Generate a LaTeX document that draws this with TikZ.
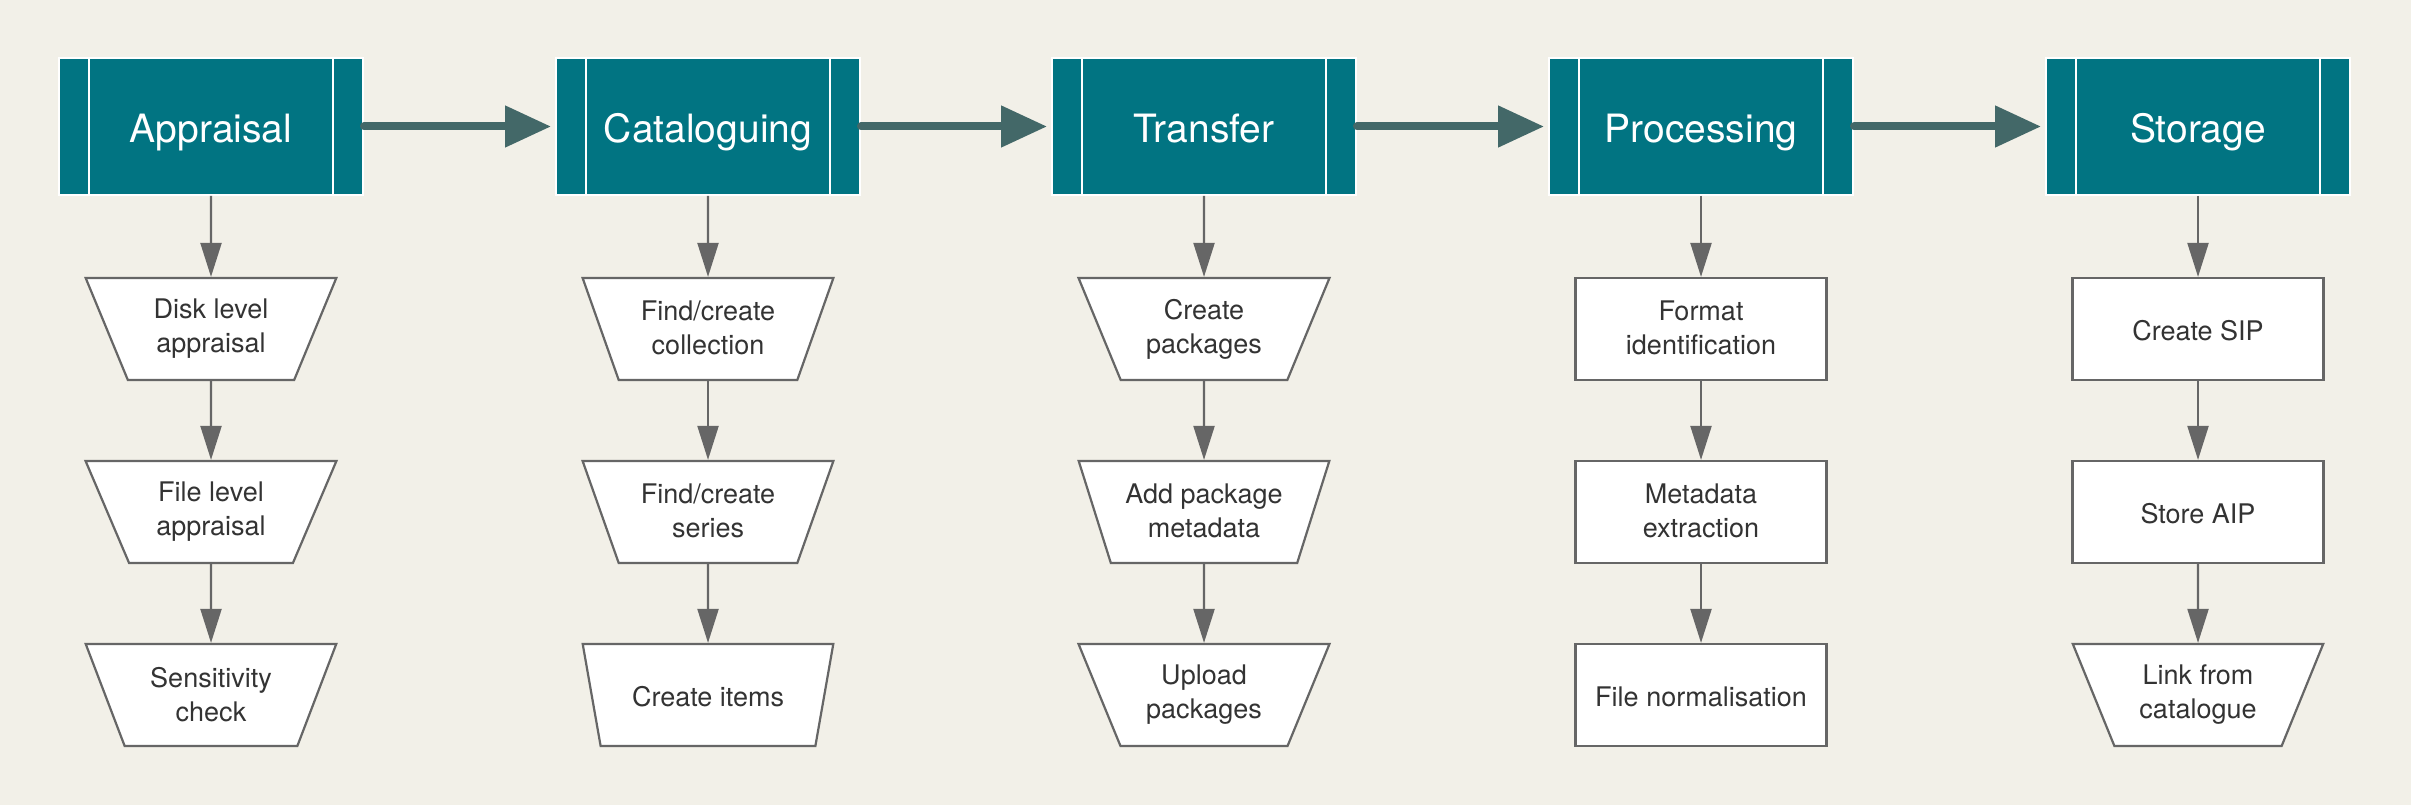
\documentclass[tikz,border=0pt]{standalone}
\usepackage{fontspec}
\setmainfont{TeX Gyre Heros}
\usetikzlibrary{shapes.geometric,arrows.meta}
\definecolor{bgc}{HTML}{F2F0E8}
\definecolor{teal1}{HTML}{017482}
\definecolor{flowc}{HTML}{436868}
\definecolor{edgec}{HTML}{666666}
\definecolor{txtc}{HTML}{333333}
\newcommand\topstrut{\rule{0pt}{24pt}}
\newcommand\botstrut{\rule[-2pt]{0pt}{2pt}}
\tikzset{
  x=1pt, y=1pt,
  phase/.style={rectangle, fill=teal1, draw=white, line width=2pt, minimum width=304pt, minimum height=137pt, inner sep=0pt, text=white, text height=32pt, text depth=0pt, font=\fontsize{39}{46}\selectfont},
  childtext/.style={text=txtc, align=center, font=\fontsize{27}{34}\selectfont, execute at begin node=\topstrut, execute at end node=\botstrut},
  trap/.style={trapezium, trapezium stretches=true, trapezium left angle=64, trapezium right angle=64, shape border rotate=180, minimum width=251pt, minimum height=102pt, inner sep=0pt, fill=white, draw=edgec, line width=2.2pt, childtext},
  task/.style={rectangle, minimum width=251pt, minimum height=102pt, inner sep=0pt, fill=white, draw=edgec, line width=2.2pt, childtext},
  flow/.style={draw=flowc, line width=8pt, line cap=round, -{Triangle[length=46pt,width=40pt]}, shorten >=4pt},
  sub/.style={draw=edgec, line width=2.2pt, -{Triangle[length=34pt,width=21pt]}},
}
\begin{document}
\begin{tikzpicture}
\fill[bgc] (0,0) rectangle (2411,-805);
\useasboundingbox (0,0) rectangle (2411,-805);
% headers
\node[phase] (A) at (211,-126.5) {Appraisal};
\node[phase] (C) at (708,-126.5) {Cataloguing};
\node[phase] (T) at (1204,-126.5) {Transfer};
\node[phase] (P) at (1701,-126.5) {Processing};
\node[phase] (S) at (2198,-126.5) {Storage};
\foreach \n in {A,C,T,P,S}{
  \draw[white, line width=2pt] ([xshift=31pt]\n.north west) -- ([xshift=31pt]\n.south west);
  \draw[white, line width=2pt] ([xshift=-31pt]\n.north east) -- ([xshift=-31pt]\n.south east);
}
\draw[flow] (A.east) -- (C.west);
\draw[flow] (C.east) -- (T.west);
\draw[flow] (T.east) -- (P.west);
\draw[flow] (P.east) -- (S.west);
% Appraisal column
\node[trap] (A1) at (211,-329) {Disk level\\appraisal};
\node[trap] (A2) at (211,-512) {File level\\appraisal};
\node[trap] (A3) at (211,-695) {Sensitivity\\check};
% Cataloguing column
\node[trap] (C1) at (708,-329) {Find/create\\collection};
\node[trap] (C2) at (708,-512) {Find/create\\series};
\node[trap] (C3) at (708,-695) {Create items};
% Transfer column
\node[trap] (T1) at (1204,-329) {Create\\packages};
\node[trap] (T2) at (1204,-512) {Add package\\metadata};
\node[trap] (T3) at (1204,-695) {Upload\\packages};
% Processing column
\node[task] (P1) at (1701,-329) {Format\\identification};
\node[task] (P2) at (1701,-512) {Metadata\\extraction};
\node[task] (P3) at (1701,-695) {File normalisation};
% Storage column
\node[task] (S1) at (2198,-329) {Create SIP};
\node[task] (S2) at (2198,-512) {Store AIP};
\node[trap] (S3) at (2198,-695) {Link from\\catalogue};
\foreach \h in {A,C,T,P,S}{
  \draw[sub] (\h.south) -- (\h1.north);
  \draw[sub] (\h1.south) -- (\h2.north);
  \draw[sub] (\h2.south) -- (\h3.north);
}
\end{tikzpicture}
\end{document}
